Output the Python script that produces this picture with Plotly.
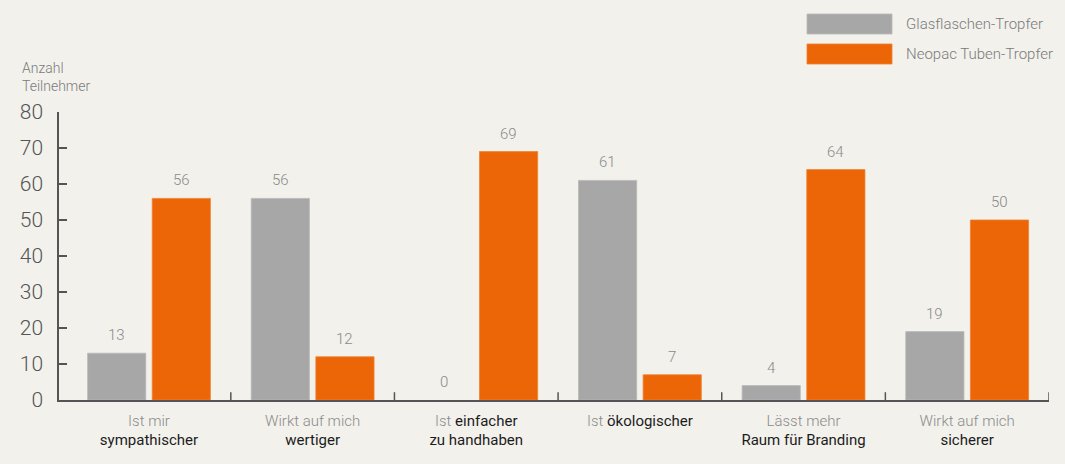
import plotly.graph_objects as go

categories_line1 = ["Ist mir", "Wirkt auf mich", "Ist <b>einfacher</b>", "Ist <b>ökologischer</b>", "Lässt mehr", "Wirkt auf mich"]
categories_line2 = ["sympathischer", "wertiger", "zu handhaben", "", "Raum für Branding", "sicherer"]
series_names = ["Glasflaschen-Tropfer", "Neopac Tuben-Tropfer"]
glas_values = [13, 56, 0, 61, 4, 19]
neopac_values = [56, 12, 69, 7, 64, 50]
y_ticks = [0, 10, 20, 30, 40, 50, 60, 70, 80]
y_title = "Anzahl<br>Teilnehmer"

GRAY = "#a7a7a7"
ORANGE = "#ec6608"
GRAY_EDGE = "#b9b9b9"
ORANGE_EDGE = "#f0822f"
BG = "#f2f1ec"
DARK = "#1c1c1c"
LIGHT = "#8a8a8a"
AXIS = "#555555"
FONT = "Roboto Light, Roboto"


def fmt_label(l1, l2):
    l1 = l1.replace("<b>", f"<span style='color:{DARK};font-family:Roboto;font-weight:400'>").replace("</b>", "</span>")
    s = l1
    if l2:
        s += f"<br><span style='color:{DARK};font-family:Roboto;font-weight:400'>{l2}</span>"
    return s


cats = [f"c{i}" for i in range(len(categories_line1))]
ticktext = [fmt_label(a, b) for a, b in zip(categories_line1, categories_line2)]

fig = go.Figure()
colors = [GRAY, ORANGE]
edges = [GRAY_EDGE, ORANGE_EDGE]
for name, vals, col, edge in zip(series_names, [glas_values, neopac_values], colors, edges):
    fig.add_trace(go.Bar(
        x=cats, y=vals, name=name,
        marker=dict(color=col, line=dict(width=[0.8 if v > 0 else 0 for v in vals], color=edge)),
        showlegend=False,
    ))

BARGAP = 0.21
GROUPGAP = 0.1
n_series = 2
slot = (1 - BARGAP) / n_series  # in category units

annotations = []
for s_idx, vals in enumerate([glas_values, neopac_values]):
    offset = -(1 - BARGAP) / 2 + slot * (s_idx + 0.5)
    for i, v in enumerate(vals):
        annotations.append(dict(
            x=i + offset, y=v, xref="x", yref="y", text=str(v),
            showarrow=False, yanchor="bottom", yshift=7,
            font=dict(family=FONT, size=15, color=LIGHT, weight=300),
        ))

annotations.append(dict(
    x=-0.039, y=1.0, xref="paper", yref="paper", xanchor="left", yanchor="bottom",
    text=y_title, showarrow=False, align="left", yshift=16,
    font=dict(family=FONT, size=14, color="#7a7a7a", weight=300),
))

shapes = []
# category separator ticks (inside)
for i in range(len(cats)):
    shapes.append(dict(type="line", xref="x", yref="y domain", x0=i + 0.5, x1=i + 0.5,
                       y0=0, y1=0.027, line=dict(color=AXIS, width=1.5)))

# custom legend
for k, (name, col, edge) in enumerate(zip(series_names, colors, edges)):
    y_top = 14 + k * 30
    shapes.append(dict(type="rect", xref="paper", yref="paper",
                       x0=(807 - 59) / 990, x1=(892 - 59) / 990,
                       y0=(400 - y_top) / 288, y1=(400 - (y_top + 20)) / 288,
                       fillcolor=col, line=dict(width=0.8, color=edge)))
    annotations.append(dict(
        x=(904 - 59) / 990, y=(400 - (y_top + 10)) / 288, xref="paper", yref="paper",
        xanchor="left", yanchor="middle", text=name, showarrow=False,
        font=dict(family=FONT, size=15, color="#7a7a7a", weight=300),
    ))

fig.update_layout(
    width=1065, height=464,
    margin=dict(l=59, r=16, t=112, b=64),
    paper_bgcolor=BG, plot_bgcolor=BG,
    barmode="group", bargap=BARGAP, bargroupgap=GROUPGAP,
    font=dict(family=FONT, color=LIGHT),
    annotations=annotations, shapes=shapes,
    xaxis=dict(
        type="category", range=[-0.55, 5.5],
        tickmode="array", tickvals=cats, ticktext=ticktext,
        ticks="", showgrid=False, zeroline=False,
        showline=True, linecolor=AXIS, linewidth=1.5,
        tickfont=dict(family=FONT, size=15, color=LIGHT, weight=300),
        ticklabelstandoff=6,
    ),
    yaxis=dict(
        range=[0, 80], tickvals=y_ticks,
        ticks="inside", ticklen=8, tickwidth=1.5, tickcolor=AXIS,
        showgrid=False, zeroline=False,
        showline=True, linecolor=AXIS, linewidth=1.5,
        tickfont=dict(family=FONT, size=21, color="#555555", weight=300),
        ticklabelstandoff=10,
    ),
)

fig.write_html(
    "out.html",
    config={"displayModeBar": False},
    post_script="document.body.style.margin='0';document.body.style.background='" + BG + "';",
)
